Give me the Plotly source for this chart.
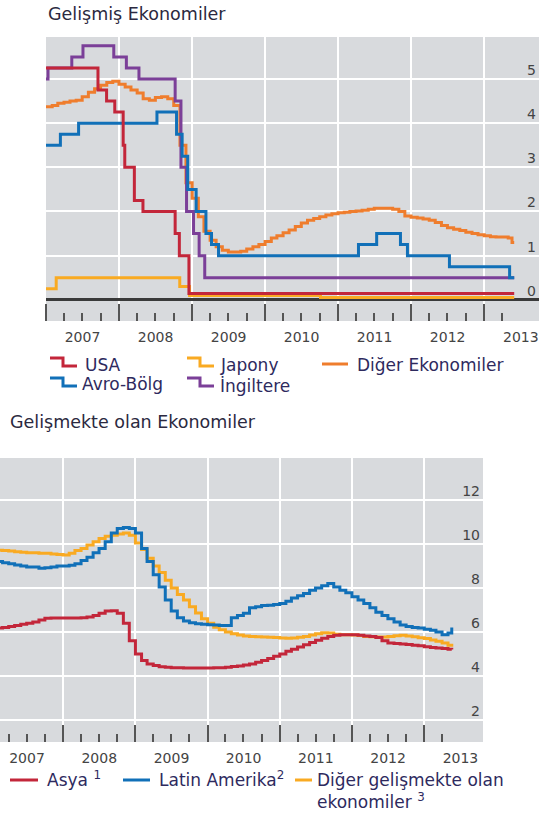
import plotly.graph_objects as go
import pandas as pd

# ---------------- Data: advanced economies (policy rates, %) ----------------
usa_dates = ['2007-01-01', '2007-09-18', '2007-10-31', '2007-12-11', '2008-01-22', '2008-01-30',
             '2008-03-18', '2008-04-30', '2008-10-08', '2008-10-29', '2008-12-16', '2013-05-31']
usa_vals = [5.25, 4.75, 4.5, 4.25, 3.5, 3.0, 2.25, 2.0, 1.5, 1.0, 0.14, 0.14]

japan_dates = ['2007-01-01', '2007-02-21', '2008-10-31', '2008-12-19', '2010-10-05', '2013-05-31']
japan_vals = [0.25, 0.5, 0.3, 0.1, 0.05, 0.05]

euro_dates = ['2007-01-01', '2007-03-14', '2007-06-13', '2008-07-09', '2008-10-15', '2008-11-12',
              '2008-12-10', '2009-01-21', '2009-03-11', '2009-04-08', '2009-05-13', '2011-04-13',
              '2011-07-13', '2011-11-09', '2011-12-14', '2012-07-11', '2013-05-08', '2013-05-31']
euro_vals = [3.5, 3.75, 4.0, 4.25, 3.75, 3.25, 2.5, 2.0, 1.5, 1.25, 1.0, 1.25, 1.5, 1.25, 1.0, 0.75, 0.5, 0.5]

uk_dates = ['2007-01-01', '2007-01-11', '2007-05-10', '2007-07-05', '2007-12-06', '2008-02-07',
            '2008-04-10', '2008-10-08', '2008-11-06', '2008-12-04', '2009-01-08', '2009-02-05',
            '2009-03-05', '2013-05-31']
uk_vals = [5.0, 5.25, 5.5, 5.75, 5.5, 5.25, 5.0, 4.5, 3.0, 2.0, 1.5, 1.0, 0.5, 0.5]

other_adv_vals = [4.37, 4.4, 4.45, 4.47, 4.5, 4.52, 4.6, 4.7, 4.78, 4.86, 4.92, 4.95,
                  4.88, 4.82, 4.75, 4.68, 4.55, 4.52, 4.58, 4.6, 4.55, 4.4, 3.5, 2.65,
                  2.3, 1.88, 1.55, 1.35, 1.2, 1.12, 1.08, 1.08, 1.1, 1.15, 1.2, 1.25,
                  1.32, 1.4, 1.45, 1.52, 1.58, 1.66, 1.74, 1.8, 1.84, 1.88, 1.92, 1.95,
                  1.97, 1.98, 2.0, 2.01, 2.03, 2.05, 2.07, 2.07, 2.07, 2.05, 2.0, 1.9,
                  1.87, 1.85, 1.83, 1.8, 1.75, 1.68, 1.63, 1.6, 1.57, 1.53, 1.5, 1.47,
                  1.45, 1.43, 1.42, 1.42, 1.4, 1.3, 1.3]
other_adv_dates = [d.strftime('%Y-%m-%d') for d in pd.date_range('2007-01-01', '2013-05-01', freq='MS')] + ['2013-05-20', '2013-05-31']

# ---------------- Data: emerging economies (policy rates, %) ----------------
em_dates = [d.strftime('%Y-%m-%d') for d in pd.date_range('2007-01-01', '2013-05-01', freq='MS')] + ['2013-05-20']

asia_vals = [6.15, 6.18, 6.2, 6.25, 6.3, 6.35, 6.4, 6.45, 6.55, 6.62, 6.64, 6.64,
             6.64, 6.64, 6.64, 6.65, 6.68, 6.75, 6.85, 6.95, 6.97, 6.85, 6.4, 5.6,
             5.0, 4.7, 4.55, 4.48, 4.42, 4.4, 4.38, 4.37, 4.36, 4.36, 4.36, 4.36,
             4.36, 4.37, 4.38, 4.4, 4.43, 4.46, 4.5, 4.55, 4.62, 4.7, 4.8, 4.9,
             5.0, 5.12, 5.22, 5.32, 5.42, 5.52, 5.62, 5.72, 5.8, 5.85, 5.88, 5.88,
             5.87, 5.85, 5.82, 5.8, 5.75, 5.6, 5.5, 5.48, 5.45, 5.43, 5.4, 5.37,
             5.33, 5.3, 5.27, 5.25, 5.22, 5.2]

latam_vals = [9.2, 9.2, 9.15, 9.1, 9.05, 9.0, 8.95, 8.95, 8.9, 8.92, 8.95, 9.0,
              9.0, 9.03, 9.1, 9.25, 9.4, 9.6, 9.8, 10.1, 10.5, 10.7, 10.75, 10.7,
              10.5, 9.8, 9.2, 8.6, 8.05, 7.45, 6.95, 6.65, 6.5, 6.42, 6.38, 6.35,
              6.33, 6.32, 6.3, 6.3, 6.65, 6.75, 6.85, 7.1, 7.15, 7.2, 7.22, 7.25,
              7.3, 7.4, 7.55, 7.65, 7.75, 7.9, 8.0, 8.1, 8.2, 8.05, 7.9, 7.78,
              7.6, 7.45, 7.3, 7.1, 6.9, 6.75, 6.6, 6.45, 6.32, 6.25, 6.2, 6.18,
              6.12, 6.08, 6.0, 5.88, 5.95, 6.2]

other_em_vals = [9.7, 9.72, 9.7, 9.68, 9.65, 9.63, 9.6, 9.6, 9.58, 9.58, 9.55, 9.52,
                 9.5, 9.58, 9.7, 9.8, 9.95, 10.1, 10.25, 10.35, 10.4, 10.45, 10.5, 10.4,
                 10.05, 9.75, 9.35, 9.0, 8.7, 8.35, 8.0, 7.7, 7.45, 7.15, 6.86, 6.6,
                 6.4, 6.22, 6.1, 6.0, 5.92, 5.86, 5.82, 5.8, 5.78, 5.77, 5.76, 5.75,
                 5.73, 5.72, 5.73, 5.76, 5.8, 5.86, 5.92, 5.97, 5.95, 5.9, 5.88, 5.87,
                 5.86, 5.84, 5.8, 5.78, 5.77, 5.77, 5.8, 5.83, 5.85, 5.82, 5.78, 5.74,
                 5.7, 5.64, 5.58, 5.5, 5.4, 5.33]

top_yticks = [0, 1, 2, 3, 4, 5]
bottom_yticks = [2, 4, 6, 8, 10, 12]

# ---------------- Styling ----------------
W, H = 539, 815
RED = '#c3263a'
YEL = '#f9aa22'
ORA = '#ef7d2d'
BLU = '#1170b8'
PUR = '#7b3f98'
BG = '#d8dadd'
TXT = '#2e2a5e'
FONT = 'DejaVu Sans'


def px(x):
    return x / W


def py(y):
    return 1 - y / H


fig = go.Figure()


def add(x, y, color, ax, shape='hv'):
    fig.add_trace(go.Scatter(x=x, y=y, mode='lines', line=dict(color=color, width=3, shape=shape),
                             xaxis=ax[0], yaxis=ax[1], hoverinfo='skip', showlegend=False))


add(other_adv_dates, other_adv_vals, ORA, ('x', 'y'))
add(japan_dates, japan_vals, YEL, ('x', 'y'))
add(uk_dates, uk_vals, PUR, ('x', 'y'))
add(euro_dates, euro_vals, BLU, ('x', 'y'))
add(usa_dates, usa_vals, RED, ('x', 'y'))

add(em_dates, other_em_vals, YEL, ('x2', 'y2'))
add(em_dates, asia_vals, RED, ('x2', 'y2'))
add(em_dates, latam_vals, BLU, ('x2', 'y2'))

minor_ticks = [f'{y}-{m:02d}-01' for y in range(2007, 2014) for m in (4, 7, 10) if not (y == 2013 and m > 4)]


def xaxis_cfg(domain, rng, anchor):
    return dict(domain=domain, anchor=anchor, type='date', range=rng,
                tickmode='linear', tick0='2007-01-01', dtick='M12', tickformat='%Y',
                ticklabelmode='period', ticks='inside', ticklen=17, tickwidth=2, tickcolor='#555',
                showgrid=True, gridcolor='white', gridwidth=2, zeroline=False, showline=False,
                tickfont=dict(family=FONT, size=14, color='#444'), ticklabelstandoff=6,
                minor=dict(tickvals=minor_ticks, ticks='inside', ticklen=8, tickwidth=1.5,
                           tickcolor='#555', showgrid=False),
                fixedrange=True)


def yaxis_cfg(domain, rng, anchor, tv, zl):
    return dict(domain=domain, anchor=anchor, range=rng, side='right', tickvals=tv,
                ticklabelposition='inside', ticklabelshift=-9, ticks='',
                showgrid=True, gridcolor='white', gridwidth=2,
                zeroline=zl, zerolinecolor='#3a3a3a', zerolinewidth=2.5, showline=False,
                tickfont=dict(family=FONT, size=14, color='#444'), fixedrange=True)


fig.update_layout(
    width=W, height=H, margin=dict(l=0, r=0, t=0, b=0),
    paper_bgcolor='white', plot_bgcolor=BG, showlegend=False,
    xaxis=xaxis_cfg([px(46), 1], ['2007-01-01', '2013-10-02'], 'y'),
    yaxis=yaxis_cfg([py(321), py(37)], [-0.48, 5.95], 'x', top_yticks, True),
    xaxis2=xaxis_cfg([0, px(483)], ['2007-02-16', '2013-10-25'], 'y2'),
    yaxis2=yaxis_cfg([py(742), py(458)], [1.0, 13.91], 'x2', bottom_yticks, False),
)

annotations = []
shapes = []


def text(x, y, s, size=17, anchor='left', yanchor='middle', color=TXT):
    annotations.append(dict(x=px(x), y=py(y), xref='paper', yref='paper', text=s, showarrow=False,
                            xanchor=anchor, yanchor=yanchor, align='left',
                            font=dict(family=FONT, size=size, color=color)))


def step_swatch(x0, y, color):
    pts = [(x0, y - 4), (x0 + 13, y - 4), (x0 + 13, y + 4), (x0 + 27, y + 4)]
    path = 'M ' + ' L '.join(f'{px(a):.5f},{py(b):.5f}' for a, b in pts)
    shapes.append(dict(type='path', path=path, xref='paper', yref='paper',
                       line=dict(color=color, width=3)))


def line_swatch(x0, x1, y, color):
    shapes.append(dict(type='line', x0=px(x0), x1=px(x1), y0=py(y), y1=py(y), xref='paper', yref='paper',
                       line=dict(color=color, width=3)))


# titles
text(46, 14, 'Gelişmiş Ekonomiler', size=17.5, color='#2b2940')
text(8, 422, 'Gelişmekte olan Ekonomiler', size=17.5, color='#2b2940')

# top legend
step_swatch(50, 362, RED)
text(83, 365, 'USA')
step_swatch(187, 362, YEL)
text(218, 365, 'Japony')
line_swatch(322, 348, 364, ORA)
text(355, 365, 'Diğer Ekonomiler')
step_swatch(50, 382, BLU)
text(80, 384, 'Avro-Bölg')
step_swatch(187, 382, PUR)
text(218, 386, 'İngiltere')

# bottom legend
line_swatch(10, 38, 780, RED)
text(45, 779, 'Asya <sup>1</sup>')
line_swatch(123, 150, 780, BLU)
text(157, 779, 'Latin Amerika<sup>2</sup>')
line_swatch(295, 312, 780, YEL)
text(315, 768, 'Diğer gelişmekte olan<br>ekonomiler <sup>3</sup>', yanchor='top')

fig.update_layout(annotations=annotations, shapes=shapes)

fig.write_html('out.html', config={'displayModeBar': False},
               post_script="document.body.style.margin='0px';document.body.style.padding='0px';")
